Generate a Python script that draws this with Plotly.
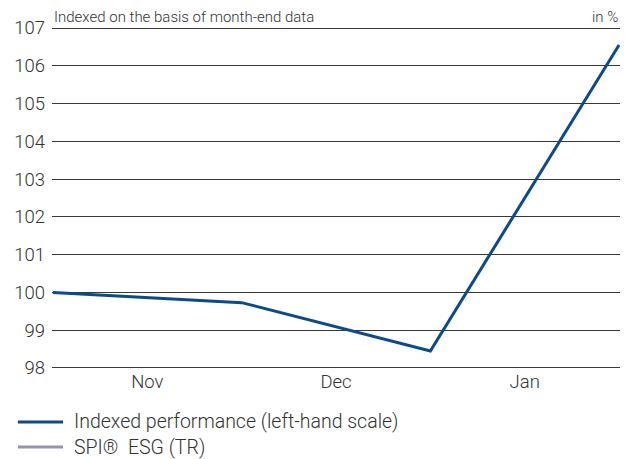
import plotly.graph_objects as go

positions = [0, 1, 2, 3]
indexed_perf = [100.0, 99.73, 98.45, 106.55]
spi_esg = [None, None, None, None]
month_ticks = [0.5, 1.5, 2.5]
month_labels = ["Nov", "Dec", "Jan"]
y_ticks = [98, 99, 100, 101, 102, 103, 104, 105, 106, 107]
legend_names = ["Indexed performance (left-hand scale)", "SPI®  ESG (TR)"]

BLUE = "#0d4a8c"
GRAY = "#9a92ad"
FONT = "Roboto, Liberation Sans, Arial, sans-serif"
TXT = "#333333"
colors = [BLUE, GRAY]

fig = go.Figure()
fig.add_trace(go.Scatter(x=positions, y=indexed_perf, mode="lines",
                         line=dict(color=BLUE, width=3), name=legend_names[0]))
fig.add_trace(go.Scatter(x=positions, y=spi_esg, mode="lines",
                         line=dict(color=GRAY, width=3), name=legend_names[1]))

fig.update_layout(
    width=629, height=459,
    margin=dict(l=52, r=9, t=28, b=91, autoexpand=False),
    paper_bgcolor="white", plot_bgcolor="white",
    font=dict(family=FONT, color=TXT, size=18, weight=300),
    showlegend=False,
    xaxis=dict(range=[-0.005, 3.005], tickvals=month_ticks, ticktext=month_labels,
               showgrid=False, zeroline=False, showline=False, ticks="",
               tickfont=dict(size=18.5, color=TXT, weight=300)),
    yaxis=dict(range=[98, 107], tickvals=y_ticks, showgrid=True,
               gridcolor="#3a3a3a", gridwidth=1, zeroline=False, showline=False,
               ticks="", ticklabelstandoff=6, tickfont=dict(size=18.5, color=TXT, weight=300)),
)

for yv in (98, 107):
    fig.add_shape(type="line", xref="paper", yref="y", x0=0, x1=1, y0=yv, y1=yv,
                  line=dict(color="#3a3a3a", width=2), layer="below")

fig.add_annotation(text="Indexed on the basis of month-end data", xref="paper", yref="paper",
                   x=0, y=1, xanchor="left", yanchor="bottom", yshift=0, showarrow=False,
                   font=dict(size=15, color=TXT, weight=300))
fig.add_annotation(text="in %", xref="paper", yref="paper",
                   x=1, y=1, xanchor="right", yanchor="bottom", yshift=0, showarrow=False,
                   font=dict(size=15, color=TXT, weight=300))

# manual legend (longer line keys than Plotly's built-in legend)
leg_y = [-0.1588, -0.2324]
for name, col, ly in zip(legend_names, colors, leg_y):
    fig.add_shape(type="line", xref="paper", yref="paper", x0=-0.06, x1=0.0194,
                  y0=ly, y1=ly, line=dict(color=col, width=3))
    fig.add_annotation(text=name, xref="paper", yref="paper", x=0.035, y=ly,
                       xanchor="left", yanchor="middle", showarrow=False,
                       font=dict(size=19.5, color=TXT, weight=300))

fig.write_html("out.html")
